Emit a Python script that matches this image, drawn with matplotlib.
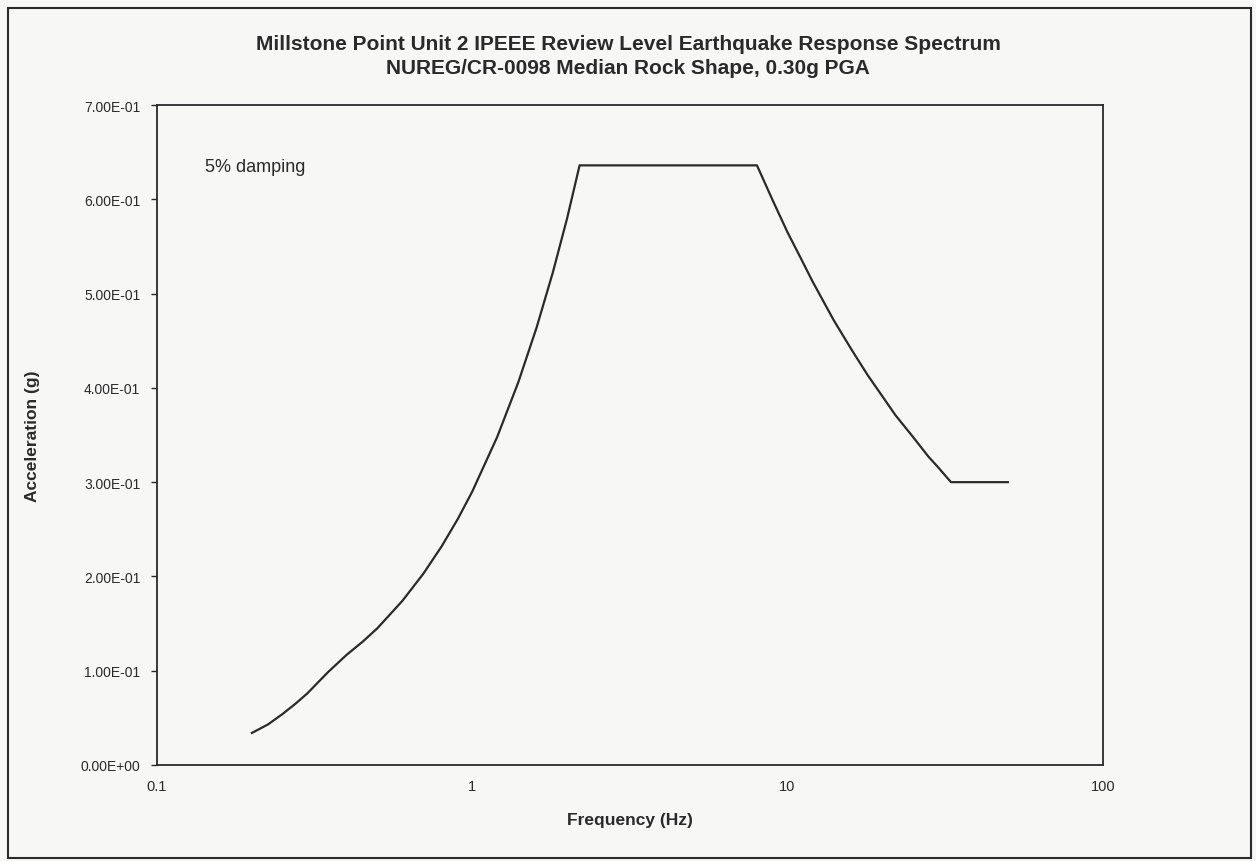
import matplotlib as mpl
mpl.use('Agg')
import matplotlib.pyplot as plt
from matplotlib.patches import Rectangle
from matplotlib.ticker import FixedLocator, FixedFormatter, NullLocator

# Review level earthquake spectrum, 5% damping
freq_hz = [0.2, 0.225, 0.25, 0.275, 0.3, 0.325, 0.35, 0.4, 0.45, 0.5, 0.6,
           0.7, 0.8, 0.9, 1.0, 1.2, 1.4, 1.6, 1.8, 2.0, 2.19, 8.0, 9.0,
           10.0, 11.0, 12.0, 14.0, 16.0, 18.0, 20.0, 22.0, 25.0, 28.0,
           30.0, 33.0, 50.0]
accel_g = [0.034, 0.043, 0.054, 0.065, 0.076, 0.088, 0.099, 0.117, 0.131,
           0.145, 0.174, 0.203, 0.232, 0.261, 0.290, 0.348, 0.406, 0.464,
           0.522, 0.580, 0.636, 0.636, 0.598, 0.565, 0.538, 0.513, 0.472,
           0.440, 0.413, 0.391, 0.371, 0.348, 0.327, 0.316, 0.300, 0.300]

y_ticks = [0.0, 0.1, 0.2, 0.3, 0.4, 0.5, 0.6, 0.7]
y_tick_labels = ['0.00E+00', '1.00E-01', '2.00E-01', '3.00E-01',
                 '4.00E-01', '5.00E-01', '6.00E-01', '7.00E-01']
x_ticks = [0.1, 1, 10, 100]
x_tick_labels = ['0.1', '1', '10', '100']

title_1 = 'Millstone Point Unit 2 IPEEE Review Level Earthquake Response Spectrum'
title_2 = 'NUREG/CR-0098 Median Rock Shape, 0.30g PGA'

plt.rcParams['font.family'] = ['Liberation Sans', 'DejaVu Sans']
ink = '#2a2a2a'

fig = plt.figure(figsize=(12.56, 8.62), dpi=100, facecolor='#f7f7f5')
ax = fig.add_axes([0.125, 0.1114, 0.753, 0.7656])
ax.set_facecolor('#f7f7f5')

ax.plot(freq_hz, accel_g, color=ink, lw=1.6)

ax.set_xscale('log')
ax.set_xlim(0.1, 100)
ax.set_ylim(0, 0.7)
ax.xaxis.set_major_locator(FixedLocator(x_ticks))
ax.xaxis.set_major_formatter(FixedFormatter(x_tick_labels))
ax.xaxis.set_minor_locator(NullLocator())
ax.yaxis.set_major_locator(FixedLocator(y_ticks))
ax.yaxis.set_major_formatter(FixedFormatter(y_tick_labels))
ax.tick_params(axis='x', length=0, pad=10, labelsize=10.5, colors=ink)
ax.tick_params(axis='y', direction='out', length=4, width=1, pad=8,
               labelsize=10, colors=ink)
for sp in ax.spines.values():
    sp.set_color(ink)
    sp.set_linewidth(1.3)

ax.set_xlabel('Frequency (Hz)', fontsize=12.5, fontweight='bold', color=ink,
              labelpad=14)
ax.set_ylabel('Acceleration (g)', fontsize=12.5, fontweight='bold', color=ink,
              labelpad=0)
ax.yaxis.set_label_coords(-0.124, 0.5)

fig.text(0.5, 0.948, title_1, ha='center', va='center', fontsize=15,
         fontweight='bold', color=ink)
fig.text(0.5, 0.921, title_2, ha='center', va='center', fontsize=15,
         fontweight='bold', color=ink)

ax.text(0.051, 0.907, '5% damping', transform=ax.transAxes, ha='left',
        va='center', fontsize=13, color=ink)

# outer frame around the whole chart
fig.patches.append(Rectangle((0.006, 0.004), 0.99, 0.985,
                             transform=fig.transFigure, fill=False,
                             edgecolor=ink, lw=1.5))

fig.savefig('out.png', dpi=100, facecolor=fig.get_facecolor())
